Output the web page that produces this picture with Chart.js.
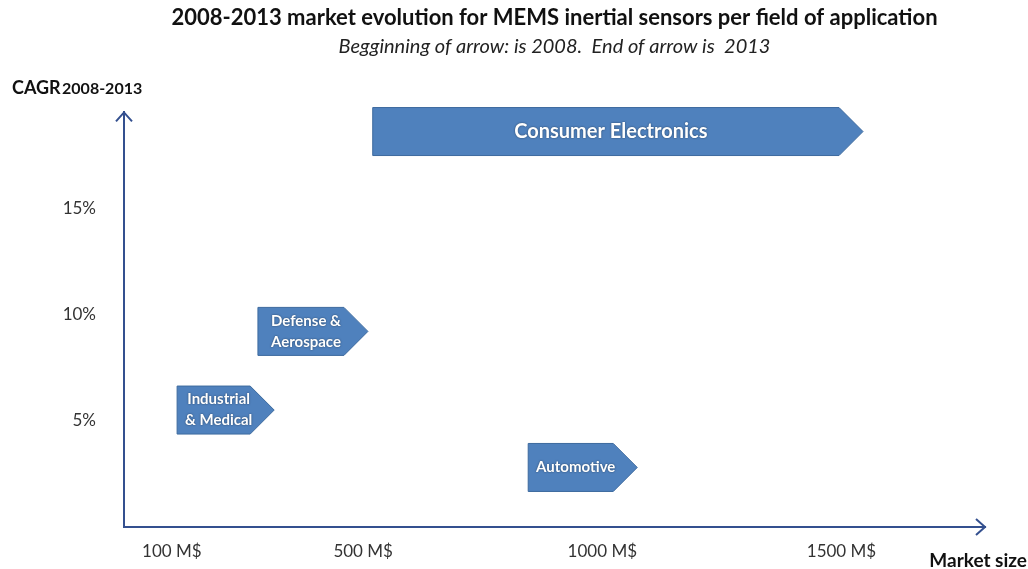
<!DOCTYPE html>
<html lang="en">
<head>
	<meta charset="UTF-8">
	<title>MEMS inertial sensors market evolution</title>
	<script src="https://cdn.jsdelivr.net/npm/chart.js"></script>
	<style>
		body { margin: 0; background: #fff; }
		#wrap { width: 1028px; height: 569px; }
	</style>
</head>
<body>
	<div id="wrap"><canvas id="mems"></canvas></div>

	<script>
		// fields of application (arrow starts in 2008, ends in 2013)
		const fields = ['Consumer Electronics', 'Defense &\nAerospace', 'Industrial\n& Medical', 'Automotive'];
		const size2008 = [520, 280, 111, 845];     // M$
		const size2013 = [1545, 510, 314, 1073];   // M$
		const cagr = [18.6, 9.2, 5.5, 2.8];        // %

		const xTicks = [100, 500, 1000, 1500];
		const yTicks = [5, 10, 15];

		const axisColor = '#34508f';
		const fontFam = 'Lato, "Open Sans", sans-serif';

		// draws block arrows from 2008 size to 2013 size at the CAGR level
		const blockArrows = {
			id: 'blockArrows',
			afterDatasetsDraw(chart) {
				const ctx = chart.ctx;
				const xs = chart.scales.x, ys = chart.scales.y;
				const h = 48;
				fields.forEach((name, i) => {
					const x0 = xs.getPixelForValue(size2008[i]);
					const x1 = xs.getPixelForValue(size2013[i]);
					const yc = ys.getPixelForValue(cagr[i]);
					const tip = h / 2;
					ctx.save();
					ctx.beginPath();
					ctx.moveTo(x0, yc - h / 2);
					ctx.lineTo(x1 - tip, yc - h / 2);
					ctx.lineTo(x1, yc);
					ctx.lineTo(x1 - tip, yc + h / 2);
					ctx.lineTo(x0, yc + h / 2);
					ctx.closePath();
					ctx.fillStyle = '#4f81bd';
					ctx.fill();
					ctx.strokeStyle = '#3d6a9e';
					ctx.lineWidth = 1;
					ctx.stroke();

					const lines = name.split('\n');
					const fs = (x1 - x0) > 200 ? 20 : 15;
					ctx.font = 'bold ' + fs + 'px ' + fontFam;
					ctx.fillStyle = '#fff';
					ctx.textAlign = 'center';
					ctx.textBaseline = 'middle';
					ctx.shadowColor = 'rgba(0,0,0,0.5)';
					ctx.shadowBlur = 2;
					const cx = x0 + (x1 - tip - x0) / 2 + 5;
					const lh = 21;
					lines.forEach((t, k) => {
						ctx.fillText(t, cx, yc + (k - (lines.length - 1) / 2) * lh);
					});
					ctx.restore();
				});
			},
			afterDraw(chart) {
				const ctx = chart.ctx;
				const a = chart.chartArea;
				ctx.save();
				ctx.strokeStyle = axisColor;
				ctx.lineWidth = 2;
				// arrow heads on axes
				ctx.beginPath();
				ctx.moveTo(a.left - 8, a.top + 9);
				ctx.lineTo(a.left, a.top);
				ctx.lineTo(a.left + 8, a.top + 9);
				ctx.moveTo(a.right - 9, a.bottom - 8);
				ctx.lineTo(a.right, a.bottom);
				ctx.lineTo(a.right - 9, a.bottom + 8);
				ctx.stroke();

				// axis titles
				ctx.fillStyle = '#111';
				ctx.textBaseline = 'middle';
				ctx.textAlign = 'left';
				ctx.font = 'bold 18px ' + fontFam;
				ctx.fillText('CAGR', 12, 88);
				const w = ctx.measureText('CAGR ').width;
				ctx.font = 'bold 16px ' + fontFam;
				ctx.fillText('2008-2013', 12 + w - 3, 89);
				ctx.font = 'bold 19px ' + fontFam;
				ctx.textAlign = 'right';
				ctx.fillText('Market size', 1027, 561);
				ctx.restore();
			}
		};

		new Chart(document.getElementById('mems'), {
			type: 'scatter',
			data: { datasets: [{ data: [] }] },
			plugins: [blockArrows],
			options: {
				responsive: true,
				maintainAspectRatio: false,
				animation: false,
				layout: { padding: { left: 32, right: 43, top: 0, bottom: 0 } },
				plugins: {
					legend: { display: false },
					tooltip: { enabled: false },
					title: {
						display: true,
						fullSize: false,
						text: '2008-2013 market evolution for MEMS inertial sensors per field of application',
						color: '#111',
						font: { family: fontFam, size: 22, weight: 'bold', lineHeight: 1.2 },
						padding: { top: 5, bottom: 3 }
					},
					subtitle: {
						display: true,
						fullSize: false,
						text: 'Begginning of arrow: is 2008.  End of arrow is  2013',
						color: '#222',
						font: { family: fontFam, size: 20, style: 'italic', lineHeight: 1.2 },
						padding: { top: 0, bottom: 54 }
					}
				},
				scales: {
					x: {
						type: 'linear',
						min: 0,
						max: 1800,
						afterBuildTicks: s => { s.ticks = xTicks.map(v => ({ value: v })); },
						afterFit: s => { s.height = 42; },
						grid: { display: false, drawTicks: false },
						border: { display: true, color: axisColor, width: 2 },
						ticks: {
							padding: 14,
							color: '#333',
							font: { family: fontFam, size: 17 },
							callback: v => v + ' M$'
						}
					},
					y: {
						type: 'linear',
						min: 0,
						max: 19.5,
						afterBuildTicks: s => { s.ticks = yTicks.map(v => ({ value: v })); },
						afterFit: s => { s.width = 92; },
						grid: { display: false, drawTicks: false },
						border: { display: true, color: axisColor, width: 2 },
						ticks: {
							padding: 28,
							color: '#333',
							font: { family: fontFam, size: 17 },
							callback: v => v + '%'
						}
					}
				}
			}
		});
	</script>
</body>
</html>
